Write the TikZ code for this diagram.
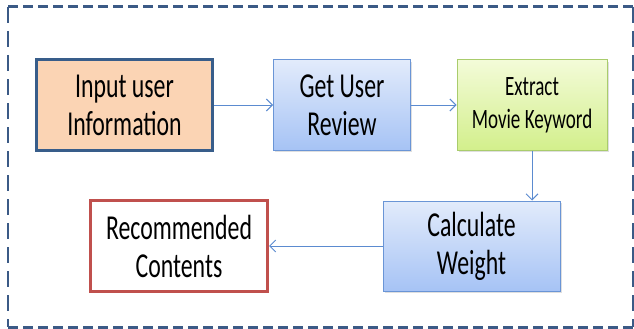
\documentclass[tikz,border=0pt]{standalone}
\usepackage{fontspec}
\setmainfont[FakeStretch=0.68]{Carlito}
\usetikzlibrary{arrows.meta,shadows}

\definecolor{framecol}{HTML}{3B5A86}
\definecolor{linkcol}{HTML}{5B8BD0}
\definecolor{peach}{HTML}{FBD4B4}
\definecolor{navyedge}{HTML}{385D8A}
\definecolor{blueedge}{HTML}{6A95D6}
\definecolor{bluetop}{HTML}{E2EBFB}
\definecolor{bluebot}{HTML}{A6C3F5}
\definecolor{greenedge}{HTML}{A9CC6C}
\definecolor{greentop}{HTML}{F3FBD8}
\definecolor{greenbot}{HTML}{D3EF8C}
\definecolor{rededge}{HTML}{C0504D}

\tikzset{
  stage/.style={draw, align=center, inner sep=0pt,
    font=\fontsize{35}{38}\selectfont},
  bluestage/.style={stage, draw=blueedge, line width=1pt,
    top color=bluetop, bottom color=bluebot,
    drop shadow={opacity=0.25, shadow xshift=1.5pt, shadow yshift=-2pt}},
  link/.style={draw=linkcol, line width=1pt,
    -{Straight Barb[length=6pt,width=12pt,line width=1pt]}}
}

\begin{document}
\begin{tikzpicture}[x=1pt, y=-1pt]
  \useasboundingbox[fill=white] (0,0) rectangle (634,329);

  % dashed outline
  \draw[framecol, line width=3pt, dash pattern=on 10pt off 5pt]
    (8,7) -- (633,7) (8,327) -- (633,327);
  \draw[framecol, line width=2.2pt, dash pattern=on 16pt off 8pt]
    (8,7) -- (8,327) (633,7) -- (633,327);

  % stages
  \node[stage, draw=navyedge, line width=3pt, fill=peach,
    minimum width=176pt, minimum height=91pt] (input) at (124.5,105)
    {Input user\\Information};
  \node[bluestage, minimum width=137pt, minimum height=90pt] (review) at (342,105)
    {Get User\\Review};
  \node[stage, draw=greenedge, line width=1pt,
    top color=greentop, bottom color=greenbot,
    drop shadow={opacity=0.25, shadow xshift=1.5pt, shadow yshift=-2pt},
    font=\fontsize{28}{33}\selectfont,
    minimum width=150pt, minimum height=90pt] (keyword) at (532,105)
    {Extract\\Movie Keyword};
  \node[bluestage, minimum width=177pt, minimum height=90pt] (weight) at (471.5,246)
    {Calculate\\Weight};
  \node[stage, draw=rededge, line width=3pt, fill=white,
    minimum width=177pt, minimum height=91pt] (result) at (179,246)
    {Recommended\\Contents};

  % flow
  \draw[link] (input) -- (review);
  \draw[link] (review) -- (keyword);
  \draw[link] (keyword.south) -- (keyword.south |- weight.north);
  \draw[link] (weight) -- (result);
\end{tikzpicture}
\end{document}
